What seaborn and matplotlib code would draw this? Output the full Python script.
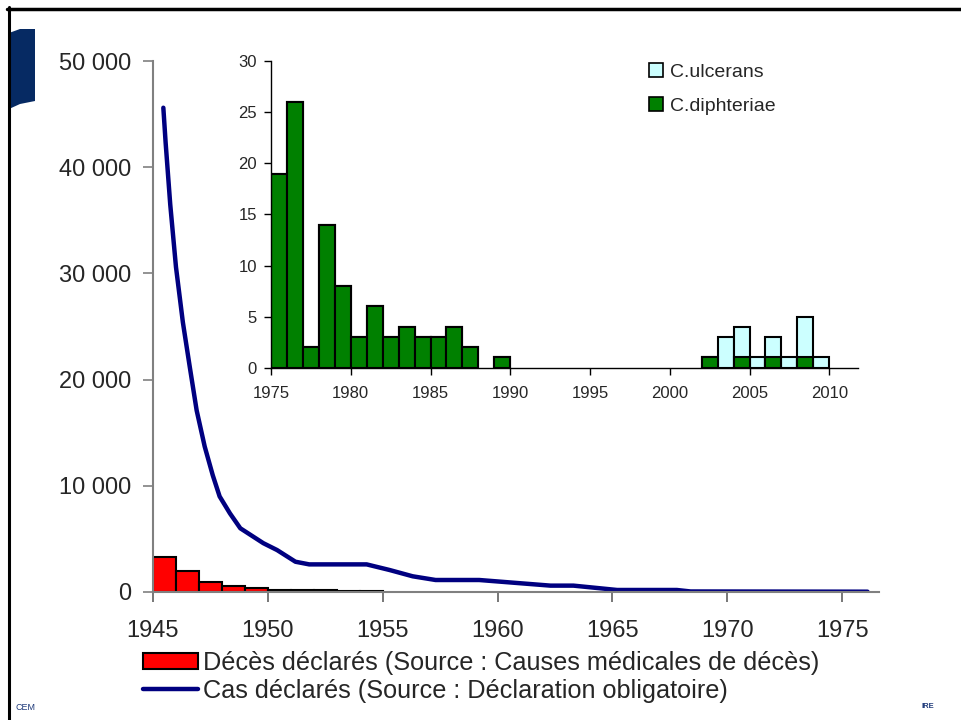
"""
Diphtheria in France: reported cases and deaths 1945-1976,
with an inset of C. diphtheriae / C. ulcerans isolates 1975-2009.
"""

import numpy as np
import pandas as pd
import matplotlib
matplotlib.use("Agg")
import matplotlib.pyplot as plt
from matplotlib import font_manager
from matplotlib.lines import Line2D
from matplotlib.patches import Patch, Polygon
from matplotlib.ticker import FuncFormatter, MultipleLocator
import seaborn as sns

# ── Main chart data ──
death_years = [1945, 1946, 1947, 1948, 1949, 1950, 1951, 1952, 1953, 1954]
deaths = [3300, 2000, 950, 550, 350, 200, 180, 150, 130, 120]

# reported cases (smoothed curve)
case_years = [1945.45, 1945.55, 1945.75, 1946.0, 1946.3, 1946.6, 1946.9, 1947.25,
              1947.6, 1947.9, 1948.35, 1948.8, 1949.8, 1950.4, 1950.8, 1951.2,
              1951.8, 1954.3, 1955.3, 1956.3, 1957.3, 1959.2, 1962.3, 1963.3,
              1965.2, 1967.8, 1968.4, 1976.1]
cases = [45600, 42300, 36500, 30600, 25400, 21200, 17100, 13700,
         11000, 9000, 7400, 6000, 4600, 3950, 3400, 2850,
         2600, 2600, 2070, 1480, 1130, 1130, 600, 600,
         190, 190, 50, 30]

# ── Inset data ──
inset_years = list(range(1975, 2010))
diphteriae = [19, 26, 2, 14, 8, 3, 6, 3, 4, 3, 3, 4, 2, 0, 1,
              0, 0, 0, 0, 0, 0, 0, 0, 0, 0, 0, 0,
              1, 0, 1, 0, 1, 0, 1, 0]
ulcerans = [0] * 28 + [3, 3, 1, 2, 1, 4, 1]

deaths_label = "Décès déclarés (Source : Causes médicales de décès)"
cases_label = "Cas déclarés (Source : Déclaration obligatoire)"

sns.set_theme(style="white")
plt.rcParams["font.family"] = ["Liberation Sans", "DejaVu Sans"]

# the x labels and bottom legend look like a narrow face in the original
try:
    font_manager.findfont("Liberation Sans Narrow", fallback_to_default=False)
    narrow = ["Liberation Sans Narrow", "Liberation Sans", "DejaVu Sans"]
    xtick_size, xtick_pad, leg_size = 21, 9, 22
except ValueError:
    narrow = ["Liberation Sans", "DejaVu Sans"]
    xtick_size, xtick_pad, leg_size = 17, 13, 18.2

fig = plt.figure(figsize=(9.61, 7.2), dpi=100)
W, H = 961, 720


def fx(px):
    return px / W


def fy(py):
    return 1 - py / H


# ── Main axes ──
ax = fig.add_axes([fx(153), fy(592), fx(879) - fx(153), fy(61) - fy(592)])

df_deaths = pd.DataFrame({"year": np.array(death_years) + 0.5, "n": deaths})
sns.barplot(data=df_deaths, x="year", y="n", native_scale=True, width=1.0,
            color="#FF0000", saturation=1, edgecolor="black", linewidth=1.5,
            errorbar=None, ax=ax)

df_cases = pd.DataFrame({"year": case_years, "n": cases})
sns.lineplot(data=df_cases, x="year", y="n", color="#000080", linewidth=3.2,
             ax=ax)

ax.set_xlim(1945, 1976.6)
ax.set_ylim(0, 50000)
ax.xaxis.set_major_locator(MultipleLocator(5))
ax.yaxis.set_major_locator(MultipleLocator(10000))
ax.yaxis.set_major_formatter(FuncFormatter(lambda v, _: f"{v:,.0f}".replace(",", " ")))
ax.set_xlabel("")
ax.set_ylabel("")
for side in ["top", "right"]:
    ax.spines[side].set_visible(False)
for side in ["left", "bottom"]:
    ax.spines[side].set_color("#808080")
    ax.spines[side].set_linewidth(1.5)
ax.tick_params(axis="y", direction="out", length=7, width=1.2, color="#808080",
               pad=9, labelsize=17, left=True)
ax.tick_params(axis="x", direction="out", length=7, width=1.2, color="#606060",
               pad=xtick_pad, labelsize=xtick_size, bottom=True)
for lab in ax.get_xticklabels():
    lab.set_family(narrow)
ax.patch.set_alpha(0)

# ── Inset axes ──
axi = fig.add_axes([fx(271), fy(367.7), fx(858) - fx(271), fy(61.2) - fy(367.7)])

df_inset = pd.DataFrame({"year": np.array(inset_years) + 0.5,
                         "diph": diphteriae, "ulc": ulcerans})
df_inset["total"] = df_inset["diph"] + df_inset["ulc"]
tot = df_inset[df_inset["total"] > 0]
dip = df_inset[df_inset["diph"] > 0]
sns.barplot(data=tot, x="year", y="total", native_scale=True, width=1.0,
            color="#CCFFFF", saturation=1, edgecolor="black", linewidth=1.5,
            errorbar=None, ax=axi)
sns.barplot(data=dip, x="year", y="diph", native_scale=True, width=1.0,
            color="#008000", saturation=1, edgecolor="black", linewidth=1.5,
            errorbar=None, ax=axi)

axi.set_xlim(1975, 2011.8)
axi.set_ylim(0, 30)
axi.xaxis.set_major_locator(MultipleLocator(5))
axi.yaxis.set_major_locator(MultipleLocator(5))
axi.set_xlabel("")
axi.set_ylabel("")
for side in ["top", "right"]:
    axi.spines[side].set_visible(False)
for side in ["left", "bottom"]:
    axi.spines[side].set_color("black")
    axi.spines[side].set_linewidth(1.0)
axi.tick_params(axis="both", direction="out", length=5, width=1.0, color="black",
                labelsize=12, left=True, bottom=True)
axi.tick_params(axis="y", pad=5)
axi.tick_params(axis="x", pad=8)
axi.patch.set_alpha(0)

axi.legend(handles=[Patch(facecolor="#CCFFFF", edgecolor="black", linewidth=1.2),
                    Patch(facecolor="#008000", edgecolor="black", linewidth=1.2)],
           labels=["C.ulcerans", "C.diphteriae"],
           loc="upper left", bbox_to_anchor=(fx(649), fy(63)),
           bbox_transform=fig.transFigure, frameon=False, fontsize=14,
           handlelength=0.7, handleheight=0.7, handletextpad=0.4,
           labelspacing=0.85, borderaxespad=0, borderpad=0)

# ── Main legend below ──
leg_em = leg_size * 100 / 72
fig.legend(handles=[Patch(facecolor="#FF0000", edgecolor="black", linewidth=1.5),
                    Line2D([], [], color="#000080", linewidth=3.2)],
           labels=[deaths_label, cases_label],
           loc="upper left", bbox_to_anchor=(fx(143), fy(651)),
           frameon=False, prop={"family": narrow, "size": leg_size},
           handlelength=55 / leg_em, handleheight=16 / leg_em,
           handletextpad=5 / leg_em, labelspacing=0.16,
           borderaxespad=0, borderpad=0)

# ── Slide decoration ──
fig.add_artist(Line2D([fx(7), 1], [fy(8.5), fy(8.5)], color="black", linewidth=2.5))
fig.add_artist(Line2D([fx(8.5), fx(8.5)], [fy(7), 0], color="black", linewidth=2.2))
fig.add_artist(Polygon([(fx(9), fy(33)), (fx(20), fy(29)), (fx(35), fy(29)),
                        (fx(35), fy(101)), (fx(20), fy(104)), (fx(9), fy(109))],
                       closed=True, facecolor="#062A63", edgecolor="none",
                       transform=fig.transFigure))
fig.text(fx(16), fy(707), "CEM", fontsize=6.5, color="#1F3A7A", va="center")
fig.text(fx(922), fy(706), "IRE", fontsize=5.5, color="#1F3A7A", va="center",
         fontweight="bold")

fig.savefig("out.png", dpi=100)
